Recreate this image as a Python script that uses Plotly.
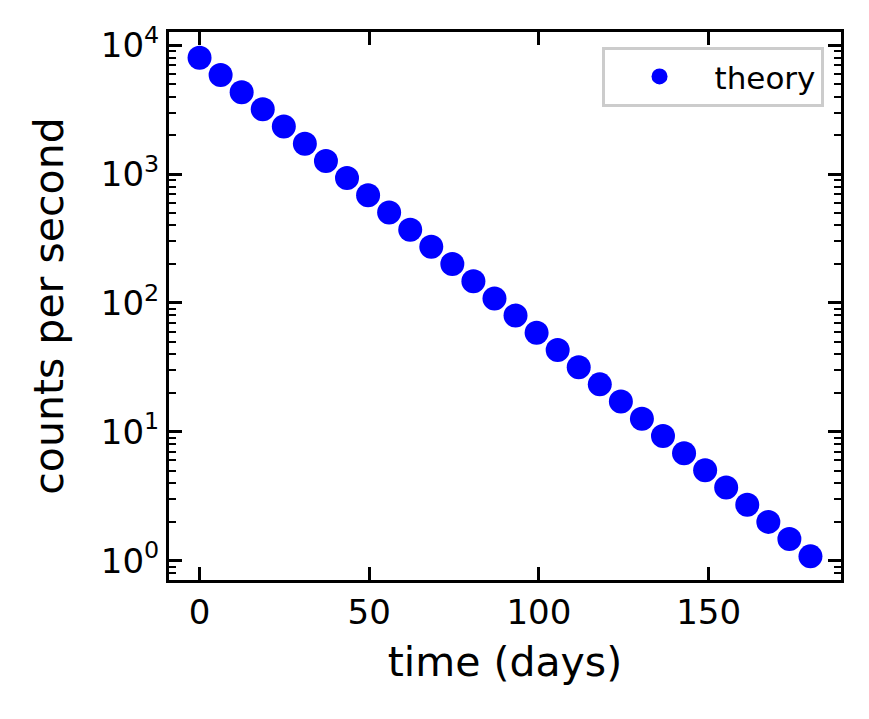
import plotly.graph_objects as go

# data
time_days = [0.0, 6.21, 12.41, 18.62, 24.83, 31.03, 37.24, 43.45, 49.66, 55.86,
             62.07, 68.28, 74.48, 80.69, 86.90, 93.10, 99.31, 105.52, 111.72, 117.93,
             124.14, 130.34, 136.55, 142.76, 148.97, 155.17, 161.38, 167.59, 173.79, 180.0]
counts = [8000, 5884, 4328, 3183, 2341, 1722, 1266, 931.4, 685.1, 503.9,
          370.6, 272.6, 200.5, 147.5, 108.5, 79.8, 58.7, 43.2, 31.7, 23.35,
          17.17, 12.63, 9.29, 6.83, 5.03, 3.70, 2.72, 2.00, 1.47, 1.08]
series_name = "theory"
x_ticks = [0, 50, 100, 150]
y_tickvals = [1, 10, 100, 1000, 10000]
y_ticktext = ["10<sup>0</sup>", "10<sup>1</sup>", "10<sup>2</sup>", "10<sup>3</sup>", "10<sup>4</sup>"]

FONT = "DejaVu Sans"

fig = go.Figure()
fig.add_trace(go.Scatter(
    x=time_days, y=counts, mode="markers", name=series_name,
    marker=dict(color="#0000ff", size=24, line=dict(width=0)),
))

fig.update_layout(
    width=869, height=719,
    margin=dict(l=169, r=28, t=32, b=139),
    paper_bgcolor="white", plot_bgcolor="white",
    font=dict(family=FONT, color="black", size=34),
    showlegend=True,
    legend=dict(
        x=0.974, y=0.973, xanchor="right", yanchor="top",
        bgcolor="white", bordercolor="#cccccc", borderwidth=3,
        font=dict(family=FONT, size=31, color="black"),
        itemsizing="trace", itemwidth=100,
    ),
)

fig.update_xaxes(
    range=[-9, 189], tickvals=x_ticks, ticks="inside", ticklen=13, tickwidth=3,
    tickcolor="black", showline=True, linecolor="black", linewidth=3, mirror="ticks",
    showgrid=False, zeroline=False, tickfont=dict(size=34, family=FONT),
    title=dict(text="time (days)", font=dict(size=41, family=FONT), standoff=17),
)
fig.update_yaxes(
    type="log", range=[-0.15, 4.103], tickvals=y_tickvals, ticktext=y_ticktext,
    ticks="inside", ticklen=13, tickwidth=3, tickcolor="black",
    showline=True, linecolor="black", linewidth=3, mirror="ticks",
    showgrid=False, zeroline=False, tickfont=dict(size=34, family=FONT),
    minor=dict(ticks="inside", ticklen=7, tickwidth=2, tickcolor="black", showgrid=False,
               tickvals=[m * 10 ** d for d in range(-1, 5) for m in range(2, 10)]),
    title=dict(text="counts per second", font=dict(size=41, family=FONT), standoff=25),
)

fig.write_html("out.html")
